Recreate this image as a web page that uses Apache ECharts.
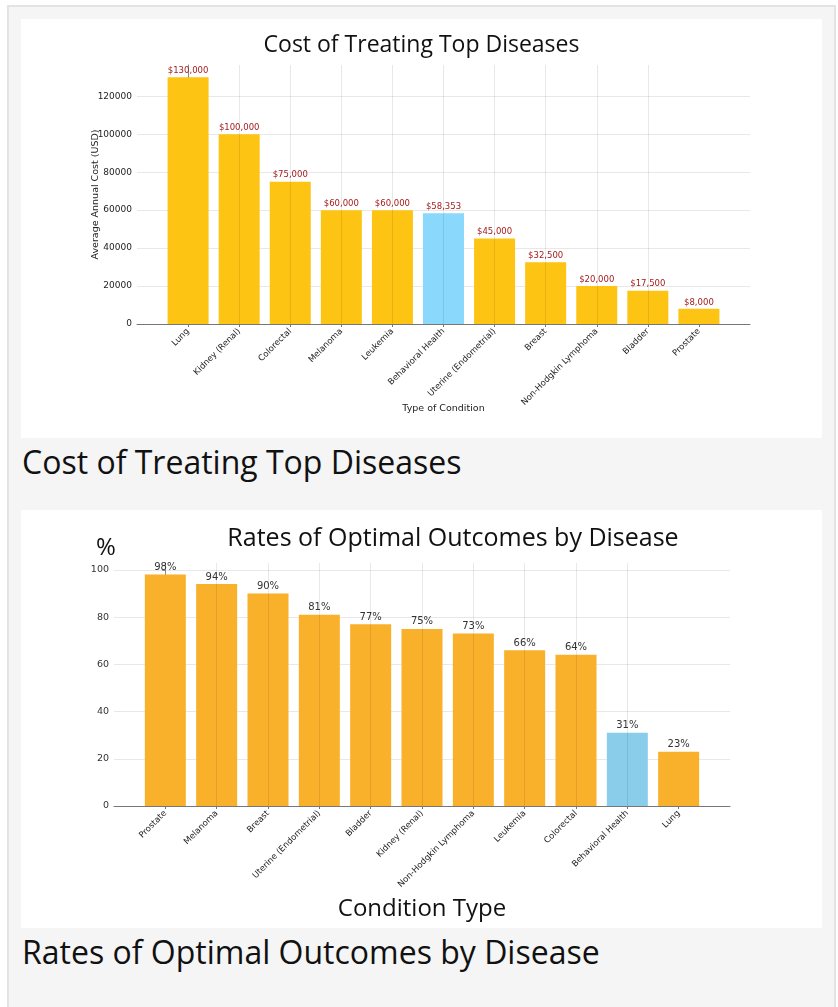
<!DOCTYPE html>
<html>
<head>
<meta charset="utf-8">
<title>Cost of Treating Top Diseases</title>
<script src="https://cdn.jsdelivr.net/npm/echarts@6.0.0/dist/echarts.min.js"></script>
<style>
  html, body { margin: 0; padding: 0; background: #fff; width: 838px; height: 1007px; overflow: hidden; }
  .frame { position: absolute; left: 7px; top: 5px; width: 825px; height: 1010px; border: 2px solid #e3e3e3; border-bottom: none; background: #f5f5f5; }
  .panel { position: absolute; left: 21px; width: 801px; background: #fff; }
  .caption { position: absolute; left: 22px; font-family: 'Open Sans'; font-size: 32px; line-height: 32px; color: #111; white-space: nowrap; }
</style>
</head>
<body>
<div class="frame"></div>
<div class="panel" id="costChart" style="top:19px;height:419px"></div>
<div class="caption" style="top:446px">Cost of Treating Top Diseases</div>
<div class="panel" id="outcomeChart" style="top:510px;height:418px"></div>
<div class="caption" style="top:936px">Rates of Optimal Outcomes by Disease</div>
<script>
// cost chart data
const costCategories = ['Lung', 'Kidney (Renal)', 'Colorectal', 'Melanoma', 'Leukemia', 'Behavioral Health',
  'Uterine (Endometrial)', 'Breast', 'Non-Hodgkin Lymphoma', 'Bladder', 'Prostate']
const costValues = [130000, 100000, 75000, 60000, 60000, 58353, 45000, 32500, 20000, 17500, 8000]

// outcome chart data
const outcomeCategories = ['Prostate', 'Melanoma', 'Breast', 'Uterine (Endometrial)', 'Bladder', 'Kidney (Renal)',
  'Non-Hodgkin Lymphoma', 'Leukemia', 'Colorectal', 'Behavioral Health', 'Lung']
const outcomeValues = [98, 94, 90, 81, 77, 75, 73, 66, 64, 31, 23]

const highlight = 'Behavioral Health'
const tickFont = 'DejaVu Sans'

// bar positions on a numeric x axis, one unit per condition
function barIndexes (list) {
  return list.map((c, i) => i)
}

const costChart = echarts.init(document.getElementById('costChart'))
costChart.setOption({
  animation: false,
  title: {
    text: 'Cost of Treating Top Diseases',
    left: 'center',
    top: 10,
    textStyle: { fontFamily: 'Open Sans', fontSize: 23, fontWeight: 'normal', color: '#111' }
  },
  grid: { left: 116, right: 72, top: 46, bottom: 114 },
  xAxis: {
    type: 'value',
    min: -1,
    max: 11,
    interval: 1,
    z: 5,
    name: 'Type of Condition',
    nameLocation: 'middle',
    nameGap: 80,
    nameMoveOverlap: false,
    nameTextStyle: { fontFamily: tickFont, fontSize: 9.5, color: '#222' },
    axisLine: { lineStyle: { color: '#777' } },
    axisTick: { length: 3, customValues: barIndexes(costCategories), lineStyle: { color: '#777' } },
    axisLabel: {
      rotate: 45,
      margin: 6,
      fontFamily: tickFont,
      fontSize: 8.5,
      color: '#222',
      customValues: barIndexes(costCategories),
      formatter: v => costCategories[v] || ''
    },
    splitLine: { show: true, showMinLine: false, showMaxLine: false, lineStyle: { color: 'rgba(0,0,0,0.09)' } }
  },
  yAxis: {
    type: 'value',
    min: 0,
    max: 136500,
    interval: 20000,
    name: 'Average Annual Cost (USD)',
    nameLocation: 'middle',
    nameGap: 36,
    nameMoveOverlap: false,
    nameTextStyle: { fontFamily: tickFont, fontSize: 9.5, color: '#222' },
    axisLine: { show: true, lineStyle: { color: '#888' } },
    axisTick: { show: true, length: 3, lineStyle: { color: '#888' } },
    axisLabel: { fontFamily: tickFont, fontSize: 9, color: '#222', margin: 5, showMaxLabel: false, formatter: v => String(v) },
    splitLine: { showMaxLine: false, lineStyle: { color: 'rgba(0,0,0,0.09)' } }
  },
  series: [{
    type: 'bar',
    barWidth: 41,
    data: costValues.map((v, i) => ({
      value: [i, v],
      itemStyle: { color: costCategories[i] === highlight ? '#8ad8fc' : '#fdc413' }
    })),
    label: {
      show: true,
      position: 'top',
      distance: 2,
      fontFamily: tickFont,
      fontSize: 8.5,
      color: '#a51c1c',
      formatter: p => '$' + p.value[1].toLocaleString('en-US')
    }
  }]
})

const outcomeChart = echarts.init(document.getElementById('outcomeChart'))
outcomeChart.setOption({
  animation: false,
  graphic: [
    {
      type: 'text',
      x: 432,
      y: 16,
      style: { text: 'Rates of Optimal Outcomes by Disease', align: 'center', verticalAlign: 'top', fontFamily: 'Open Sans', fontSize: 25, fill: '#111' }
    },
    {
      type: 'text',
      x: 75,
      y: 26,
      style: { text: '%', align: 'left', verticalAlign: 'top', fontFamily: 'Open Sans', fontSize: 24, fill: '#111' }
    }
  ],
  grid: { left: 93, right: 92, top: 53, bottom: 122 },
  xAxis: {
    type: 'value',
    min: -1,
    max: 11,
    interval: 1,
    z: 5,
    name: 'Condition Type',
    nameLocation: 'middle',
    nameGap: 91,
    nameMoveOverlap: false,
    nameTextStyle: { fontFamily: 'Open Sans', fontSize: 24, color: '#111' },
    axisLine: { lineStyle: { color: '#777' } },
    axisTick: { length: 3, customValues: barIndexes(outcomeCategories), lineStyle: { color: '#777' } },
    axisLabel: {
      rotate: 45,
      margin: 6,
      fontFamily: tickFont,
      fontSize: 8.5,
      color: '#222',
      customValues: barIndexes(outcomeCategories),
      formatter: v => outcomeCategories[v] || ''
    },
    splitLine: { show: true, showMinLine: false, showMaxLine: false, lineStyle: { color: 'rgba(0,0,0,0.09)' } }
  },
  yAxis: {
    type: 'value',
    min: 0,
    max: 102.9,
    interval: 20,
    axisLine: { show: true, lineStyle: { color: '#888' } },
    axisTick: { show: true, length: 3, lineStyle: { color: '#888' } },
    axisLabel: { fontFamily: tickFont, fontSize: 9.5, color: '#333', margin: 5, showMaxLabel: false },
    splitLine: { showMaxLine: false, lineStyle: { color: 'rgba(0,0,0,0.09)' } }
  },
  series: [{
    type: 'bar',
    barWidth: 41,
    data: outcomeValues.map((v, i) => ({
      value: [i, v],
      itemStyle: { color: outcomeCategories[i] === highlight ? '#89cdea' : '#f9b02b' }
    })),
    label: {
      show: true,
      position: 'top',
      distance: 2,
      fontFamily: tickFont,
      fontSize: 10,
      color: '#333',
      formatter: p => p.value[1] + '%'
    }
  }]
})
</script>
</body>
</html>
